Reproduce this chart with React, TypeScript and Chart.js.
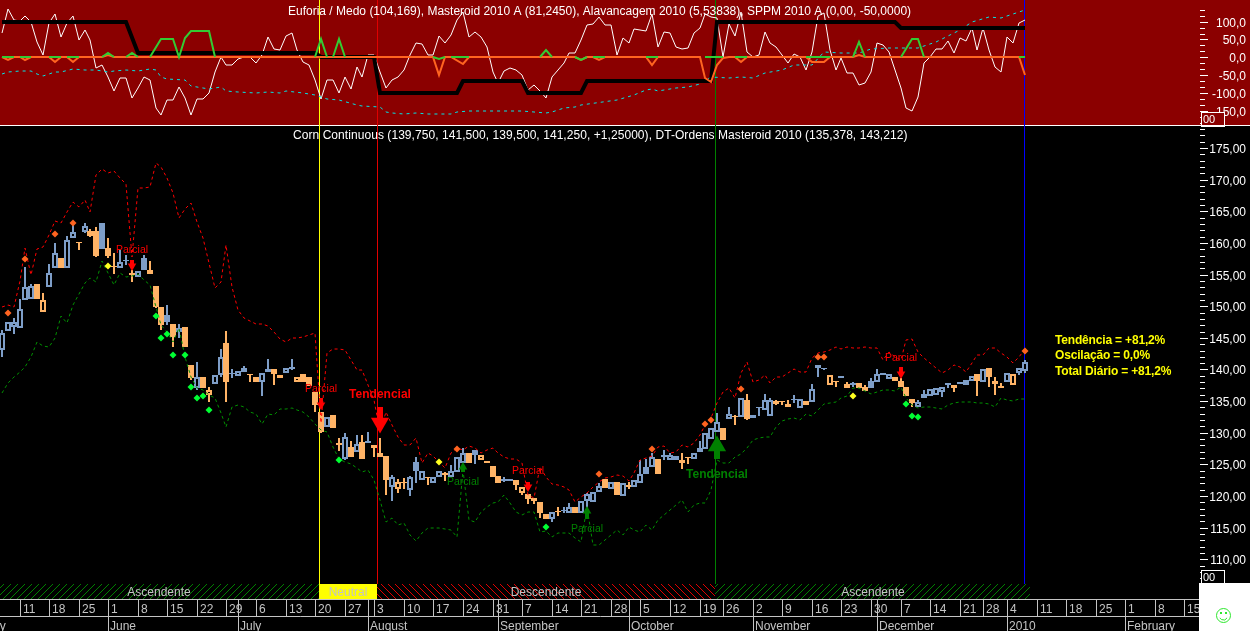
import React, { useEffect, useRef } from "react";
import { Chart, registerables } from "chart.js";

Chart.register(...registerables);

const opens = [
  143.08,146.13,146.76,146.5,150.98,151.14,153.45,149.03,152.98,155.98,
  157.56,155.98,160.78,160.09,161.67,161.88,161.88,163.15,159.14,156.4,
  155.98,157.3,155.19,154.67,157.56,155.03,153.19,149.87,148.61,147.19,
  145.97,146.71,140.71,137.02,138.76,135.97,137.71,139.13,144.13,139.5,
  139.02,139.55,139.29,138.76,138.07,139.55,140.02,138.6,139.5,140.44,
  137.97,139.23,138.81,136.5,133.33,130.86,132.81,128.44,125.8,127.7,
  127.02,128.6,128.75,127.65,126.75,126.33,121.49,121.06,122.28,120.96,
  125.33,122.54,123.07,122.01,122.96,123.59,122.96,123.86,125.17,126.75,
  127.23,125.7,125.54,124.75,123.12,122.75,122.64,122.54,120.54,120.33,
  119.64,119.01,117.11,116.32,117.69,117.85,117.38,118.22,117.38,119.22,
  119.12,120.59,122.64,121.06,122.22,120.06,121.75,121.38,122.12,124.65,
  124.54,125.8,126.49,125.7,126.38,125.7,126.23,125.91,127.54,127.49,
  128.96,130.18,130.81,132.12,132.65,132.55,135.18,132.28,134.02,133.6,
  132.7,134.97,135.07,134.02,135.34,133.86,135.02,134.92,140.71,140.18,
  137.55,138.23,138.92,137.02,137.81,137.81,136.55,138.23,138.08,139.39,
  138.44,138.13,138.18,137.23,135.28,134.02,135.44,135.86,135.97,136.44,
  137.81,137.6,138.02,138.34,138.18,139.23,137.97,140.18,137.71,137.39,
  138.08,137.55,139.39,139.75,
];
const closes = [
  145.71,147.55,147.55,149.61,152.98,153.19,151.08,151.03,155.3,158.35,
  156.09,160.46,161.78,159.93,162.67,161.14,157.93,159.04,157.93,156.19,
  157.04,157.14,154.93,155.61,155.72,155.72,149.92,147.03,147.45,145.08,
  146.61,143.6,138.6,138.86,137.13,136.76,139.18,141.92,138.07,139.23,
  139.71,140.18,139.13,138.07,139.39,140.13,139.29,139.18,140.18,140.13,
  138.86,137.97,137.39,134.39,130.17,132.54,130.7,128.07,129.39,126.12,
  128.23,125.8,128.44,128.07,126.12,122.54,123.07,122.28,122.01,123.07,
  124.01,124.01,122.86,123.07,124.01,123.33,124.01,126.23,126.75,125.17,
  126.49,126.44,125.23,123.07,122.12,122.33,122.33,121.8,121.49,119.48,
  119.27,117.38,116.38,117.54,117.43,117.64,118.33,117.38,119.27,120.33,
  120.64,121.64,121.33,122.22,120.12,122.01,121.38,122.54,123.49,123.49,
  126.23,123.49,126.12,126.49,125.7,125.17,126.02,126.86,127.02,130.02,
  130.7,131.76,128.86,132.97,132.44,135.44,132.12,132.86,133.86,135.18,
  135.18,134.55,134.86,134.55,135.13,135.39,134.44,136.92,140.18,140.02,
  139.13,138.02,138.6,137.65,137.55,137.07,137.29,137.02,139.23,139.13,
  139.29,138.76,137.29,135.86,134.65,134.92,136.13,136.86,137.13,137.29,
  137.6,137.02,137.71,137.55,138.97,138.18,140.03,138.87,138.18,137.02,
  139.39,139.23,140.18,141.25,
];
const highs = [
  146.24,147.55,148.08,151.14,156.14,153.45,153.45,152.03,156.61,159.93,
  157.56,161.09,163.09,160.09,163.2,162.15,162.57,163.15,160.72,158.46,
  158.88,158.09,155.72,155.61,158.09,157.14,153.19,149.87,150.19,147.19,
  147.19,146.71,140.71,141.18,138.76,137.18,139.18,143.18,146.08,140.02,
  139.71,140.55,139.29,138.76,139.39,141.6,140.02,139.18,140.18,141.6,
  138.86,139.23,138.81,136.5,133.33,132.54,132.81,129.12,129.91,128.75,
  129.65,129.65,130.07,128.07,129.12,126.33,123.33,122.7,122.8,123.17,
  126.12,124.01,123.07,123.07,124.01,123.86,124.91,126.23,127.54,126.75,
  127.23,126.44,125.54,124.75,123.12,123.07,122.64,122.54,121.49,120.33,
  119.64,119.01,117.11,117.54,118.33,118.22,118.85,118.22,119.27,120.54,
  120.64,122.01,122.64,122.22,122.22,122.01,122.28,122.54,125.7,125.8,
  126.75,125.8,127.28,126.75,126.38,126.75,126.23,126.86,128.75,130.02,
  130.7,133.07,130.81,134.02,132.81,135.44,136.13,132.86,134.02,136.13,
  135.44,135.18,135.07,135.18,135.97,135.39,135.02,137.71,140.71,140.18,
  139.13,138.23,138.92,138.08,138.08,137.81,137.55,138.6,140.03,139.39,
  139.29,138.76,138.6,137.23,135.39,135.18,136.76,136.86,137.13,137.29,
  137.81,137.6,138.02,138.34,138.97,139.23,140.03,140.18,138.87,137.81,
  139.39,139.23,140.18,141.5,
];
const lows = [
  141.92,146.13,145.55,146.5,150.98,151.14,151.08,149.03,152.98,155.98,
  156.09,155.98,160.78,158.88,161.5,160.88,157.83,159.04,157.56,155.09,
  155.98,156.51,153.88,154.67,155.72,155.03,149.77,146.24,147.03,143.5,
  145.03,143.5,138.34,136.76,137.13,134.91,137.71,138.86,134.91,138.6,
  139.02,139.55,138.07,138.07,135.86,139.55,137.55,138.6,139.5,139.92,
  137.97,137.97,137.39,133.33,129.91,130.86,130.7,127.12,125.7,126.12,
  127.02,125.8,128.44,126.23,126.12,120.17,119.27,120.54,121.06,120,
  122.01,122.54,121.8,122.01,122.96,122.43,122.96,123.86,125.17,125.17,
  125.07,125.7,125.23,123.07,122.12,122.22,122.33,120.96,120.17,118.75,
  118.75,116.59,116.38,115.96,116.9,117.38,117.38,117.38,117.38,117.8,
  119.12,120.59,121.22,121.06,120.12,120.06,121.06,121.38,122.12,123.49,
  124.54,123.49,125.7,125.7,125.7,124.28,125.07,125.91,127.02,127.49,
  128.96,130.18,128.86,132.12,131.23,132.55,132.02,132.28,132.65,133.6,
  132.7,134.39,134.39,134.02,134.76,133.86,134.44,134.92,138.76,139.92,
  137.55,137.29,138.6,137.02,137.29,137.07,136.55,137.02,138.08,139.13,
  138.44,138.13,137.29,135.86,134.02,134.02,135.44,135.86,135.97,135.71,
  137.02,136.5,137.71,137.55,138.18,135.86,137.97,137.29,135.97,137.02,
  138.08,137.55,139.13,139.5,
];
// b = close above previous close, o = close below it
const tones = (
  "bbbbbboobb" + "obbobooboo" + "bbobbooobo" + "booboobbob" + "bboobboobb" +
  "oooooboobo" + "boboooboob" + "bbobbobbbo" + "boooobbooo" +
  "ooobobbobb" + "bbobobobbb" + "bobbboobbb" + "bbobobobbb" + "booobbobbb" + "ooboboobbb" +
  "boooobbbbb" + "bobbbobooo" + "bobb"
).split("");

const upperBand = [
  149.82,150.19,149.82,153.98,159.14,154.93,158.98,159.3,161.25,163.46,
  163.2,164.94,166.41,165.73,166.78,164.94,170.73,171.63,171.1,171.41,
  170.2,169.31,157.83,168.73,168.62,168.89,172.68,172.05,170.2,167.94,
  163.88,165.3,166.25,163.36,160.72,156.77,152.82,153.88,159.67,153.09,
  149.4,148.08,147.71,147.19,147.19,146.87,145.97,144.76,144.4,144.92,
  145.03,145.18,145.45,145.82,131.49,142.55,143.24,143.24,143.08,141.5,
  139.92,139.92,137.55,135.18,130.18,133.34,131.23,129.39,128.07,128.07,
  129.12,125.17,126.75,126.38,125.44,124.38,126.75,127.54,127.28,127.91,
  127.54,126.75,127.28,127.54,126.86,126.12,125.8,125.8,125.17,120.17,
  119.64,124.65,123.07,121.85,121.75,121.38,120.96,119.12,119.91,120.54,
  121.38,122.17,122.8,123.07,123.28,123.17,122.43,123.59,125.7,125.96,
  126.33,127.81,127.91,126.75,127.02,128.07,127.81,128.33,129.65,131.23,
  132.28,134.65,136.5,137.02,135.44,139.39,141.24,138.08,138.34,139.13,
  137.81,138.87,138.76,139.39,140.03,139.66,139.66,141.76,142.55,142.82,
  143.08,143.5,143.19,143.5,143.34,143.34,143.5,143.34,143.34,141.5,
  142.82,142.03,141.5,144.66,144.77,142.82,141.76,140.97,140.18,139.39,
  139.92,140.71,140.45,139.66,140.97,142.29,142.29,143.34,143.34,142.55,
  142.03,140.97,142.03,143.21,
];
const lowerBand = [
  136.34,137.81,138.76,139.65,140.44,142.02,144.29,143.71,143.6,144.92,
  148.5,147.4,150.19,151.93,153.61,154.4,153.88,157.19,155.19,153.35,
  155.19,154.67,154.77,155.09,154.14,153.35,149.92,147.03,145.97,144.4,
  146.5,142.02,138.86,137.02,136.76,135.97,135.44,133.07,130.96,134.12,
  134.39,134.12,133.33,132.97,131.39,132.97,132.81,133.7,133.7,133.86,
  133.6,133.33,132.54,131.39,130.44,130.17,127.8,125.8,125.44,125.07,
  124.38,123.86,124.12,122.54,119.38,115.96,116.48,115.43,115.69,113.85,
  112.95,114.11,114.9,114.9,114.9,114.85,114.64,113.59,124.12,116.22,
  115.85,117.54,118.33,118.85,119.01,120.12,118.85,117.54,117.01,117.54,
  117.54,114.38,114.53,113.59,114.11,114.22,114.11,113.32,112.69,118.33,
  112.27,112.27,113.06,113.85,114.64,113.85,115.17,114.64,114.38,115.43,
  114.64,116.22,117.01,117.8,118.59,119.38,117.48,118.59,118.85,118.96,
  120.96,125.7,125.17,125.28,126.23,126.65,127.54,128.86,129.12,129.28,
  129.39,130.97,131.91,132.18,132.28,132.02,132.97,132.65,133.6,134.49,
  134.65,134.92,135.44,135.81,137.02,137.02,136.65,136.13,136.5,136.76,
  136.76,136.65,137.29,135.44,134.39,133.86,134.13,134.02,133.97,133.7,
  134.39,134.76,134.92,134.92,134.92,134.76,134.65,134.55,134.13,135.44,
  135.18,135.07,135.34,135.38,
];

const euforia = [
  67,134,104,103,117,100,44,6,95,121,
  58,95,116,48,76,48,-31,-22,-54,-93,
  -59,-59,-115,-87,-56,-64,-143,-162,-120,-120,
  -82,-115,-162,-118,-118,-101,-40,2,-22,-22,
  -6,2,2,-17,6,56,22,20,60,67,
  20,-12,-22,-64,-118,-64,-64,-99,-56,-90,
  -26,-56,6,6,-40,-87,-64,-56,-36,6,
  39,37,6,6,60,39,62,104,128,58,
  72,58,30,-40,-73,-37,-30,-36,-50,-92,
  -78,-93,-115,-56,-36,-17,11,11,48,90,
  93,114,90,90,6,53,39,78,76,75,
  121,30,72,67,30,22,25,69,81,121,
  114,109,2,93,60,128,16,2,6,70,
  39,30,6,-15,8,2,-36,16,116,123,
  20,-36,-3,-45,-43,-78,-73,-40,39,34,
  16,-36,-87,-143,-150,-110,-17,2,23,23,
  47,11,53,47,81,20,81,20,-26,-42,
  58,39,95,104,
];

const cyanIdx = [0,1,3,5,6,7,9,10,12,14,16,18,19,21,23,25,26,27,28,31,32,34,35,37,38,40,43,45,47,48,51,53,55,57,60,61,64,65,66,68,70,72,76,77,79,88,92,93,95,97,98,104,107,109,110,111,114,116,118,120,123,125,127,129,132,134,137,139,142,145,147,150,153,155,158,162,164,167,169,171,173];
const cyanVal = [-47,-40,-37,-37,-47,-51,-40,-40,-34,-36,-36,-40,-38,-36,-37,-33,-36,-54,-62,-64,-80,-87,-90,-82,-93,-97,-99,-97,-99,-94,-99,-106,-117,-120,-134,-136,-140,-152,-157,-160,-157,-160,-160,-152,-150,-150,-157,-152,-141,-138,-134,-120,-106,-92,-88,-93,-85,-84,-75,-56,-59,-54,-59,-45,-36,-22,-22,16,12,13,22,25,25,25,44,76,100,114,109,121,132];

const masteroidIdx = [0,21,23,53,54,63,64,77,78,88,89,98,99,120,121,151,152,173];
const masteroidVal = [100,100,11,11,0,0,-99,-99,-65,-65,-99,-99,-65,-65,100,100,83,81];

const sppmIdx = [0,1,2,3,4,5,8,9,10,11,12,13,17,18,19,21,22,23,73,74,75,76,78,79,97,98,99,100,101,102,109,110,111,118,119,120,121,122,123,124,125,126,136,137,139,140,144,145,146,172,173];
const sppmVal = [0,-8,0,0,-8,0,0,-12,0,0,-12,0,0,6,0,0,0,0,0,-50,0,0,-19,0,0,-8,0,0,-8,0,0,-22,0,0,-59,-68,-22,-3,0,0,-12,0,0,-13,-13,0,0,6,0,0,-50];

const alavIdx = [0,2,2.5,3,5,5.5,8,10,10.5,11,13,13.5,17,18,19,19.5,21,22,23,23.5,25,27,29,30,31,32,35,36,36.5,53,54,55,55.5,56,57,58,58.5,73,74,75,75.5,76,79,79.5,91,92,93,93.5,97,98,99,99.5,100,102,102.5,109,111,111.5,119,122,122.5,124,126,126.5,136,140,140.5,144,145,146,146.5,152,154,155,156,156.5,172,173];
const alavVal = [0,0,null,0,0,null,0,0,null,0,0,null,0,11,0,null,0,11,0,null,0,51,51,0,53,75,75,0,null,0,50,0,null,0,50,0,null,0,-4,0,null,0,0,null,0,20,0,null,0,-8,0,null,0,0,null,0,0,null,0,0,null,0,0,null,0,0,null,0,44,0,null,0,50,50,0,null,0,0];

const buyDotIdx = [26,27,28,29,31,32,33,34,35,57,92,153,154,155];
const buyDotVal = [148.5,145.03,145.66,142.29,142.29,137.23,135.55,135.86,133.65,125.7,115.11,134.55,132.65,132.49];
const sellDotIdx = [1,4,9,12,77,101,110,119,120,125,138,139,173];
const sellDotVal = [148.98,157.51,161.41,163.09,127.44,123.54,127.44,131.44,132.07,136.97,142.03,142.03,142.92];
const warnDotIdx = [18,74,144];
const warnDotVal = [156.35,125.44,135.81];

const signalIdx = [22,54,64,78,89,99,121,152];
const signalTail = [157.3,135.44,134.13,123.86,122.28,116.38,125.86,140.34];
const signalHead = [156.4,134.39,131.57,124.65,121.49,117.64,127.99,139.24];
const signalDir = ["down","down","down","up","down","up","up","down"];
const signalText = ["Parcial","Parcial","Tendencial","Parcial","Parcial","Parcial","Tendencial","Parcial"];
const signalTextAt = [158.98,137.02,136.13,122.4,124.12,114.9,123.5,141.98];

const regimeNames = ["Ascendente","Neutral","Descendente","Ascendente"];
const regimeStart = [-0.3,53.6,63.45,120.7];
const regimeEnd = [53.6,63.45,120.7,173.9];
const markerLineAt = [53.6,63.45,120.7,172.9];

const weekLabels = ["11","18","25","1","8","15","22","29","6","13","20","27","3","10","17","24","31","7","14","21","28","5","12","19","26","2","9","16","23","30","7","14","21","28","4","11","18","25","1","8","15"];
const weekIdx = [3,8,13,18,23,28,33,38,43,48,53,58,63,68,73,78,83,88,93,98,103,108,113,118,122,127,132,137,142,147,152,157,162,166,170,175,180,185,190,195,200];
const monthLabels = ["May","June","July","August","September","October","November","December","2010","February"];
const monthIdx = [-3.5,18,40,62,84,106,127,148,170,190];

const priceTicks = [175,170,165,160,155,150,145,140,135,130,125,120,115,110];
const oscTicks = [100,50,0,-50,-100,-150];

const topTitle = "Euforia / Medo (104,169), Masteroid 2010 A (81,2450), Alavancagem 2010 (5,53838), SPPM 2010 A (0,00, -50,0000)";
const mainTitle = "Corn Continuous (139,750, 141,500, 139,500, 141,250, +1,25000), DT-Ordens Masteroid 2010 (135,378, 143,212)";
const summaryLines = ["Tendência = +81,2%","Oscilação = 0,0%","Total Diário = +81,2%"];

const BLUE = "#7E9EC8";
const ORANGE = "#FFB366";
const FONT = '"Liberation Sans", Arial, sans-serif';

function hatch(color: string, rising: boolean) {
  const c = document.createElement("canvas");
  c.width = 7;
  c.height = 7;
  const g = c.getContext("2d")!;
  g.fillStyle = "#000";
  g.fillRect(0, 0, 7, 7);
  g.fillStyle = color;
  for (let k = 0; k < 7; k++) g.fillRect(k, rising ? 6 - k : k, 1, 1);
  return c;
}

const noPadding = (s: any) => {
  s.paddingLeft = 0;
  s.paddingRight = 0;
  s.paddingTop = 0;
  s.paddingBottom = 0;
};

// The reference is an aliased bitmap, so every scale answers in whole pixels.
const snapToPixels = (s: any) => {
  if (s.__snapped) return;
  s.__snapped = true;
  const raw = s.getPixelForValue;
  s.getPixelForValue = function (v: number, i?: number) {
    return Math.round(raw.call(this, v, i));
  };
};

export default function App() {
  const ref = useRef<HTMLCanvasElement>(null);
  useEffect(() => {
    const canvas = ref.current!;
    const ctx0 = canvas.getContext("2d")!;
    const greenHatch = ctx0.createPattern(hatch("#008000", true), "repeat")!;
    const redHatch = ctx0.createPattern(hatch("#E00000", false), "repeat")!;

    const panelPlugin = {
      id: "panels",
      beforeDraw(chart: any) {
        const c = chart.ctx;
        c.save();
        c.fillStyle = "#000";
        c.fillRect(0, 0, 1250, 631);
        c.fillStyle = "#8B0000";
        c.fillRect(0, 0, 1250, 125);
        c.fillStyle = "#fff";
        c.fillRect(0, 125, 1250, 1);
        const x = chart.scales.x;
        regimeNames.forEach((name, i) => {
          const l = x.getPixelForValue(regimeStart[i]);
          const r = x.getPixelForValue(regimeEnd[i]);
          c.fillStyle = name === "Neutral" ? "#FFFF00" : name === "Descendente" ? redHatch : greenHatch;
          c.fillRect(l, 584, r - l, 15);
        });
        c.restore();
      },
      beforeDatasetsDraw(chart: any) {
        const c = chart.ctx;
        const x = chart.scales.x;
        const colors = ["#FFFF00", "#E00000", "#008000", "#0000FF"];
        c.save();
        markerLineAt.forEach((v, i) => {
          c.fillStyle = colors[i];
          c.fillRect(x.getPixelForValue(v), 0, 1, 584);
        });
        c.restore();
      },
      afterDatasetsDraw(chart: any) {
        const c = chart.ctx;
        const x = chart.scales.x;
        const y = chart.scales.y;
        c.save();
        c.textBaseline = "middle";
        c.fillStyle = "#fff";
        c.font = "12px " + FONT;
        c.textAlign = "left";
        c.fillText(topTitle, 288, 11.5);
        c.letterSpacing = "0.06px";
        c.fillText(mainTitle, 293, 136);
        c.letterSpacing = "0px";
        c.textAlign = "center";
        signalText.forEach((t, i) => {
          c.font = (t === "Tendencial" ? "bold 12px " : "10.5px ") + FONT;
          c.fillStyle = signalDir[i] === "down" ? "#FF0000" : "#008000";
          c.fillText(t, x.getPixelForValue(signalIdx[i]), y.getPixelForValue(signalTextAt[i]) + 1);
        });
        c.font = "12px " + FONT;
        regimeNames.forEach((name, i) => {
          c.fillStyle = "#C4C4C4";
          c.fillText(name, x.getPixelForValue((regimeStart[i] + regimeEnd[i]) / 2), 593);
        });
        c.textAlign = "left";
        c.font = "bold 12px " + FONT;
        c.letterSpacing = "-0.17px";
        c.fillStyle = "#FFFF00";
        summaryLines.forEach((s, i) => c.fillText(s, 1055, 340.5 + i * 15.5));
        c.letterSpacing = "0px";
        c.restore();
      },
      afterDraw(chart: any) {
        const c = chart.ctx;
        const { y, yTop } = chart.scales;
        c.save();
        c.fillStyle = "#fff";
        for (let v = 104; v <= 178; v++) {
          if (v % 5) c.fillRect(1200, y.getPixelForValue(v), 5, 1);
        }
        for (let k = -11; k <= 9; k++) {
          if (k % 3) c.fillRect(1200, yTop.getPixelForValue((k * 50) / 3), 5, 1);
        }
        const box = (bx: number, by: number, w: number, h: number, fill: string) => {
          c.fillStyle = fill;
          c.fillRect(bx, by, w, h);
          c.strokeStyle = "#fff";
          c.lineWidth = 1;
          c.strokeRect(bx + 0.5, by + 0.5, w - 1, h + 1);
          c.fillStyle = "#fff";
          c.font = "11px " + FONT;
          c.textAlign = "left";
          c.textBaseline = "middle";
          c.fillText("00", bx + 2, by + h / 2 + 1);
        };
        box(1201, 112, 24, 13, "#8B0000");
        box(1201, 570, 24, 13, "#000");
        c.fillStyle = "#fff";
        c.fillRect(1199, 583, 51, 48);
        c.strokeStyle = "#2EE82E";
        c.lineWidth = 1;
        c.beginPath();
        c.arc(1223.5, 615.5, 7, 0, Math.PI * 2);
        c.stroke();
        c.beginPath();
        c.arc(1223.5, 616, 4, 0.15 * Math.PI, 0.85 * Math.PI);
        c.stroke();
        c.fillStyle = "#2EE82E";
        c.fillRect(1220, 612, 2, 2);
        c.fillRect(1225, 612, 2, 2);
        c.restore();
      },
    };

    const index = opens.map((_, i) => i);
    const isHollow = index.map((i) => closes[i] > opens[i]);
    const toneColor = tones.map((t) => (t === "b" ? BLUE : ORANGE));
    const price = (d: any) => ({ xAxisID: "x", yAxisID: "y", ...d });
    const osc = (d: any) => ({ type: "line", xAxisID: "x", yAxisID: "yTop", pointRadius: 0, tension: 0, ...d });
    const dots = (label: string, idx: number[], val: number[], color: string) =>
      price({
        type: "scatter",
        label,
        order: 6,
        data: idx.map((v, i) => ({ x: v, y: val[i] })),
        pointStyle: "rectRot",
        pointRadius: 3.5,
        pointBorderWidth: 0,
        backgroundColor: color,
        borderColor: color,
      });

    const shafts = signalIdx.map((v, i) =>
      price({
        type: "bar",
        label: "signal shaft",
        order: 8,
        grouped: false,
        barThickness: signalText[i] === "Tendencial" ? 6 : 4,
        inflateAmount: 0,
        backgroundColor: signalDir[i] === "down" ? "#FF0000" : "#008000",
        data: [{ x: v, y: [signalTail[i], signalHead[i]] }],
      })
    );
    const heads = signalIdx.map((v, i) =>
      price({
        type: "scatter",
        label: "signal head",
        order: 7,
        pointStyle: "triangle",
        pointRadius: signalText[i] === "Tendencial" ? 10.5 : 5,
        pointRotation: signalDir[i] === "down" ? 180 : 0,
        pointBorderWidth: 0,
        backgroundColor: signalDir[i] === "down" ? "#FF0000" : "#008000",
        data: [{ x: v, y: signalHead[i] }],
      })
    );

    const chart = new Chart(canvas, {
      type: "line",
      plugins: [panelPlugin],
      data: {
        datasets: [
          price({
            type: "bar",
            label: "Range",
            order: 20,
            grouped: false,
            barThickness: 2,
            inflateAmount: 0,
            data: index.map((i) => ({ x: i, y: [lows[i], highs[i]] })),
            backgroundColor: toneColor,
          }),
          price({
            type: "bar",
            label: "Body",
            order: 19,
            grouped: false,
            barThickness: 6,
            inflateAmount: 0,
            borderSkipped: false,
            borderWidth: 2,
            data: index.map((i) => ({ x: i, y: [opens[i], closes[i]] })),
            backgroundColor: index.map((i) => (isHollow[i] ? "#000" : toneColor[i])),
            borderColor: toneColor,
          }),
          price({
            type: "line",
            label: "DT-Ordens upper",
            order: 15,
            data: index.map((i) => ({ x: i, y: upperBand[i] })),
            borderColor: "#FF0000",
            borderWidth: 1,
            borderDash: [3, 3],
            pointRadius: 0,
            tension: 0,
          }),
          price({
            type: "line",
            label: "DT-Ordens lower",
            order: 14,
            data: index.map((i) => ({ x: i, y: lowerBand[i] })),
            borderColor: "#009000",
            borderWidth: 1,
            borderDash: [3, 3],
            pointRadius: 0,
            tension: 0,
          }),
          ...shafts,
          ...heads,
          dots("Buy", buyDotIdx, buyDotVal, "#00FF33"),
          dots("Sell", sellDotIdx, sellDotVal, "#FF6420"),
          dots("Watch", warnDotIdx, warnDotVal, "#FFFF20"),
          osc({
            label: "Euforia / Medo",
            order: 5,
            data: index.map((i) => ({ x: i, y: euforia[i] })),
            borderColor: "#FFFFFF",
            borderWidth: 1,
          }),
          osc({
            label: "Alavancagem",
            order: 4,
            data: cyanIdx.map((v, i) => ({ x: v, y: cyanVal[i] })),
            borderColor: "#00E5E5",
            borderWidth: 1,
            borderDash: [3, 4],
          }),
          osc({
            label: "Masteroid",
            order: 3,
            data: masteroidIdx.map((v, i) => ({ x: v, y: masteroidVal[i] })),
            borderColor: "#000000",
            borderWidth: 4,
          }),
          osc({
            label: "SPPM",
            order: 2,
            data: sppmIdx.map((v, i) => ({ x: v, y: sppmVal[i] })),
            borderColor: "#FF6420",
            borderWidth: 2,
          }),
          osc({
            label: "Alavancagem hist",
            order: 1,
            spanGaps: false,
            data: alavIdx.map((v, i) => ({ x: v, y: alavVal[i] })),
            borderColor: "#33CC33",
            borderWidth: 2,
          }),
        ] as any,
      },
      options: {
        responsive: false,
        devicePixelRatio: 1,
        animation: false,
        layout: { padding: { right: 4 }, autoPadding: false },
        plugins: { legend: { display: false }, tooltip: { enabled: false }, title: { display: false } },
        events: [],
        scales: {
          x: {
            type: "linear",
            position: "bottom",
            weight: 0,
            min: -0.3,
            max: 202.64,
            offset: false,
            afterBuildTicks: (s: any) => {
              snapToPixels(s);
              const all = [...weekIdx, ...monthIdx.filter((m) => !weekIdx.includes(m))].sort((a, b) => a - b);
              s.ticks = all.map((value) => ({ value }));
            },
            afterFit: (s: any) => {
              s.height = 17;
              noPadding(s);
            },
            ticks: {
              autoSkip: false,
              maxRotation: 0,
              minRotation: 0,
              align: "start",
              padding: -14,
              labelOffset: 3,
              color: "#C4C4C4",
              font: { family: FONT, size: 12 },
              callback: (v: any) => {
                const k = weekIdx.indexOf(v);
                return k >= 0 ? weekLabels[k] : "";
              },
            },
            grid: { offset: false, drawOnChartArea: false, tickLength: 17, tickColor: "#C4C4C4", tickWidth: 1 },
            border: { display: true, color: "#C4C4C4", width: 1 },
          },
          xMonth: {
            type: "linear",
            position: "bottom",
            weight: 1,
            min: -0.3,
            max: 202.64,
            offset: false,
            afterBuildTicks: (s: any) => {
              snapToPixels(s);
              s.ticks = monthIdx.map((value) => ({ value }));
            },
            afterFit: (s: any) => {
              s.height = 15;
              noPadding(s);
            },
            ticks: {
              autoSkip: false,
              maxRotation: 0,
              minRotation: 0,
              align: "start",
              padding: -12,
              labelOffset: 2,
              color: "#C4C4C4",
              font: { family: FONT, size: 12 },
              callback: (v: any) => monthLabels[monthIdx.indexOf(v)] ?? "",
            },
            grid: { offset: false, drawOnChartArea: false, tickLength: 15, tickColor: "#C4C4C4", tickWidth: 1 },
            border: { display: true, color: "#C4C4C4", width: 1 },
          },
          yTop: {
            type: "linear",
            position: "right",
            stack: "panels",
            stackWeight: 125.5,
            min: -191,
            max: 160.5,
            afterBuildTicks: (s: any) => {
              snapToPixels(s);
              s.ticks = oscTicks.map((value) => ({ value }));
            },
            afterFit: (s: any) => {
              s.width = 46;
              noPadding(s);
            },
            ticks: {
              autoSkip: false,
              crossAlign: "far",
              padding: 3,
              labelOffset: 1.5,
              color: "#FFFFFF",
              font: { family: FONT, size: 12 },
              callback: (v: any) => Number(v).toFixed(1).replace(".", ","),
            },
            grid: { drawOnChartArea: false, tickLength: 8, tickColor: "#FFFFFF" },
            border: { display: false },
          },
          y: {
            type: "linear",
            position: "right",
            stack: "panels",
            stackWeight: 473.5,
            min: 103.74,
            max: 178.55,
            afterBuildTicks: (s: any) => {
              snapToPixels(s);
              s.ticks = priceTicks.map((value) => ({ value }));
            },
            afterFit: (s: any) => {
              s.width = 46;
              noPadding(s);
            },
            ticks: {
              autoSkip: false,
              crossAlign: "far",
              padding: 1,
              labelOffset: 1.5,
              color: "#FFFFFF",
              font: { family: FONT, size: 12 },
              callback: (v: any) => Number(v).toFixed(2).replace(".", ","),
            },
            grid: { drawOnChartArea: false, tickLength: 8, tickColor: "#FFFFFF" },
            border: { display: false },
          },
        },
      } as any,
    });
    return () => chart.destroy();
  }, []);
  return (
    <div style={{ position: "absolute", left: 0, top: 0, width: 1250, height: 631, background: "#000", overflow: "hidden" }}>
      <canvas ref={ref} width={1250} height={631} style={{ display: "block" }} />
    </div>
  );
}
